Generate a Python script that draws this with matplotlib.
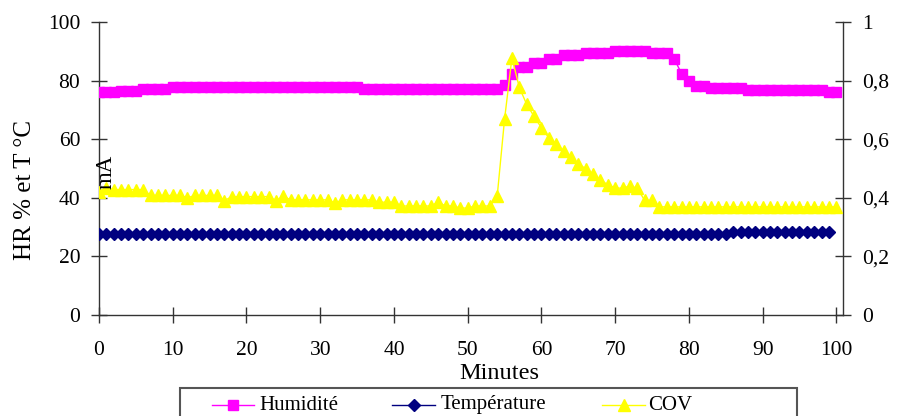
import matplotlib
matplotlib.use("Agg")
import matplotlib.pyplot as plt
from matplotlib.lines import Line2D
from matplotlib.patches import Rectangle

plt.rcParams['font.family'] = ['Liberation Serif', 'DejaVu Serif']

# ---------------- data ----------------
minutes = [0, 1, 2, 3, 4, 5, 6, 7, 8, 9, 10, 11, 12, 13, 14, 15, 16, 17, 18, 19,
           20, 21, 22, 23, 24, 25, 26, 27, 28, 29, 30, 31, 32, 33, 34, 35, 36, 37, 38, 39,
           40, 41, 42, 43, 44, 45, 46, 47, 48, 49, 50, 51, 52, 53, 54, 55, 56, 57, 58, 59,
           60, 61, 62, 63, 64, 65, 66, 67, 68, 69, 70, 71, 72, 73, 74, 75, 76, 77, 78, 79,
           80, 81, 82, 83, 84, 85, 86, 87, 88, 89, 90, 91, 92, 93, 94, 95, 96, 97, 98, 99, 100]

humidite = [76.2, 76.2, 76.2, 76.6, 76.6, 76.6, 77.3, 77.3, 77.3, 77.3,
            77.9, 77.9, 77.9, 77.9, 77.9, 77.9, 77.9, 77.9, 77.9, 77.9,
            77.9, 77.9, 77.9, 77.9, 77.9, 77.9, 77.9, 77.9, 77.9, 77.9,
            77.9, 77.9, 77.9, 77.9, 77.9, 77.9, 77.3, 77.3, 77.3, 77.3,
            77.3, 77.3, 77.3, 77.3, 77.3, 77.3, 77.3, 77.3, 77.3, 77.3,
            77.3, 77.3, 77.3, 77.3, 77.3, 78.4, 82.4, 84.8, 84.8, 86.0,
            86.0, 87.5, 87.5, 88.6, 88.6, 88.6, 89.4, 89.4, 89.4, 89.4,
            90.0, 90.0, 90.0, 90.0, 90.0, 89.3, 89.3, 89.3, 87.5, 82.4,
            79.8, 78.3, 78.3, 77.5, 77.5, 77.5, 77.5, 77.5, 76.8, 76.8,
            76.8, 76.8, 76.8, 76.8, 76.8, 76.8, 76.8, 76.8, 76.8, 76.0, 76.0]

temperature = [
    27.5, 27.5, 27.5, 27.5, 27.5, 27.5, 27.5, 27.5, 27.5, 27.5,
    27.5, 27.5, 27.5, 27.5, 27.5, 27.5, 27.5, 27.5, 27.5, 27.5,
    27.5, 27.5, 27.5, 27.5, 27.5, 27.5, 27.5, 27.5, 27.5, 27.5,
    27.5, 27.5, 27.5, 27.5, 27.5, 27.5, 27.5, 27.5, 27.5, 27.5,
    27.5, 27.5, 27.5, 27.5, 27.5, 27.5, 27.5, 27.5, 27.5, 27.5,
    27.5, 27.5, 27.5, 27.5, 27.5, 27.5, 27.5, 27.5, 27.5, 27.5,
    27.5, 27.5, 27.5, 27.5, 27.5, 27.5, 27.5, 27.5, 27.5, 27.5,
    27.5, 27.5, 27.5, 27.5, 27.5, 27.5, 27.5, 27.5, 27.5, 27.5,
    27.5, 27.5, 27.5, 27.5, 27.5, 27.5, 28.2, 28.2, 28.2, 28.2,
    28.2, 28.2, 28.2, 28.2, 28.2, 28.2, 28.2, 28.2, 28.2, 28.2]

cov = [0.420, 0.435, 0.428, 0.428, 0.428, 0.428, 0.428, 0.408, 0.408, 0.408,
       0.408, 0.408, 0.400, 0.408, 0.408, 0.408, 0.408, 0.390, 0.404, 0.404,
       0.404, 0.404, 0.404, 0.404, 0.390, 0.405, 0.393, 0.393, 0.393, 0.393,
       0.393, 0.393, 0.382, 0.393, 0.393, 0.393, 0.393, 0.393, 0.385, 0.385,
       0.385, 0.372, 0.372, 0.372, 0.372, 0.372, 0.385, 0.372, 0.372, 0.365,
       0.365, 0.372, 0.372, 0.372, 0.405, 0.668, 0.878, 0.777, 0.719, 0.678,
       0.639, 0.605, 0.582, 0.561, 0.540, 0.515, 0.500, 0.480, 0.460, 0.445,
       0.433, 0.433, 0.440, 0.433, 0.391, 0.391, 0.369, 0.369, 0.369, 0.369,
       0.369, 0.369, 0.369, 0.369, 0.369, 0.369, 0.369, 0.369, 0.369, 0.369,
       0.369, 0.369, 0.369, 0.369, 0.369, 0.369, 0.369, 0.369, 0.369, 0.369, 0.369]

series_labels = ["Humidité", "Température", "COV"]
x_ticks = [0, 10, 20, 30, 40, 50, 60, 70, 80, 90, 100]
left_ticks = [0, 20, 40, 60, 80, 100]
right_ticks = [0, 0.2, 0.4, 0.6, 0.8, 1.0]
right_ticklabels = ["0", "0,2", "0,4", "0,6", "0,8", "1"]
x_label = "Minutes"
left_label = "HR % et T °C"
right_label = "mA"

# ---------------- figure ----------------
W, H = 897, 416
fig = plt.figure(figsize=(W / 100, H / 100), dpi=100)

def fx(px):
    return px / W

def fy(py):
    return 1 - py / H

ax_l, ax_r, ax_t, ax_b = 99, 843, 22, 315
ax = fig.add_axes([fx(ax_l), fy(ax_b), fx(ax_r - ax_l), (ax_b - ax_t) / H])
ax2 = ax.twinx()

c_hum = "#FF00FF"
c_tem = "#000080"
c_cov = "#FFFF00"
ms_hum, ms_tem, ms_cov = 7.0, 5.8, 8.5

ax.plot(minutes, humidite, color=c_hum, lw=1.0, marker="s", ms=ms_hum,
        mec=c_hum, mfc=c_hum, label=series_labels[0], zorder=3)
ax.plot(minutes[:len(temperature)], temperature, color=c_tem, lw=1.0, marker="D",
        ms=ms_tem, mec=c_tem, mfc=c_tem, label=series_labels[1], zorder=3)
ax2.plot(minutes, cov, color=c_cov, lw=1.0, marker="^", ms=ms_cov,
         mec=c_cov, mfc=c_cov, label=series_labels[2], zorder=3)

ax.set_xlim(0, 100.9)
ax.set_ylim(0, 100)
ax2.set_ylim(0, 1)

ax.set_xticks(x_ticks)
ax.set_yticks(left_ticks)
ax2.set_yticks(right_ticks)
ax2.set_yticklabels(right_ticklabels)

fs_tick = 15.5
for a in (ax, ax2):
    a.spines["top"].set_visible(False)
    for s in a.spines.values():
        s.set_linewidth(1.0)
        s.set_color("#333333")
    a.tick_params(direction="inout", length=11, width=1.0, labelsize=fs_tick,
                  color="#333333", pad=8)
ax.spines["right"].set_visible(False)
ax2.spines["left"].set_visible(False)
ax2.spines["bottom"].set_visible(False)
ax.tick_params(axis="x", pad=13)
ax.patch.set_visible(False)
ax.set_zorder(ax2.get_zorder() - 1)
ax2.patch.set_visible(False)

# axis titles
ax.set_xlabel(x_label, fontsize=17.5)
ax.xaxis.set_label_coords(0.538, -0.163)
fig.text(fx(25), fy(190), left_label, rotation=90, ha="center", va="center", fontsize=18)
fig.text(fx(106), fy(172), right_label, rotation=90, ha="center", va="center",
         fontsize=16.5, zorder=10)

# legend box (manual, Excel-style, cut by the bottom edge)
leg_box = Rectangle((fx(180), fy(432)), fx(797 - 180), (432 - 388) / H,
                    transform=fig.transFigure, fill=False, edgecolor="#555555",
                    lw=1.5, clip_on=False)
fig.add_artist(leg_box)
leg_y = fy(405)
entries = [
    (212, 254, 259, c_hum, "s", ms_hum),
    (392, 435, 441, c_tem, "D", ms_tem),
    (602, 645, 648, c_cov, "^", ms_cov),
]
for (x0, x1, xt, col, mk, ms), lab in zip(entries, series_labels):
    fig.add_artist(Line2D([fx(x0), fx(x1)], [leg_y, leg_y], color=col, lw=1.0,
                          transform=fig.transFigure))
    fig.add_artist(Line2D([fx((x0 + x1) / 2)], [leg_y], color=col, marker=mk, ms=ms,
                          mec=col, mfc=col, transform=fig.transFigure))
    fig.text(fx(xt), leg_y, lab, ha="left", va="center", fontsize=15)

fig.savefig("out.png", dpi=100)
